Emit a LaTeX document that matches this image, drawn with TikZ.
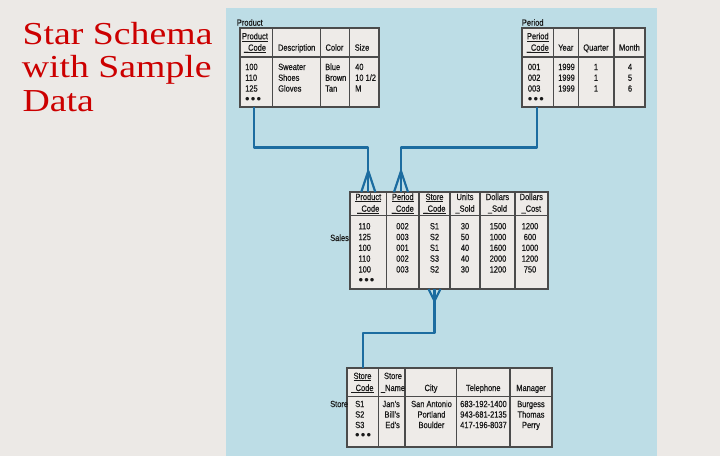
\documentclass[tikz,border=0pt]{standalone}
\usepackage{fontspec}
\newfontfamily\tabfont[FakeStretch=0.83, FakeBold=0.5]{Liberation Sans}
\newfontfamily\dotfont{Liberation Sans}
\newfontfamily\ttlfont[FakeStretch=1.18]{Liberation Serif}
\definecolor{bgc}{RGB}{236,233,230}
\definecolor{panelc}{RGB}{189,221,230}
\definecolor{tblfill}{RGB}{238,235,232}
\definecolor{tblline}{RGB}{75,75,75}
\definecolor{txtc}{RGB}{25,25,25}
\definecolor{connc}{RGB}{28,108,160}
\definecolor{ttlc}{RGB}{204,0,0}
\newcommand\dts{{\dotfont\fontsize{13}{13}\selectfont\raisebox{-1pt}{•\hspace{1.2pt}•\hspace{1.2pt}•}}}
\newcommand\uc[1]{\underline{\smash{\_}#1}}
\begin{document}
\begin{tikzpicture}[x=1pt,y=-1pt,
  ttl/.style={font=\ttlfont\fontsize{32}{34}\selectfont, text=ttlc, inner sep=0pt, anchor=base west},
  tx/.style={font=\tabfont\fontsize{9}{11}\selectfont, text=txtc, inner sep=0pt},
  tbl/.style={draw=tblline, fill=tblfill, line width=1.7pt, inner sep=0pt, outer sep=0pt, anchor=north west},
  gl/.style={draw=tblline, line width=1.2pt},
  conn/.style={draw=connc, line width=2.2pt, line join=round}]
\fill[bgc] (0,0) rectangle (720,456);
\useasboundingbox (0,0) rectangle (720,456);
\fill[panelc] (226,8) rectangle (657,456);

% title
\node[ttl] (t1) at (22.5,44.3) {Star Schema};
\node[ttl] (t2) at (21.7,77.5) {with Sample};
\node[ttl] (t3) at (22.5,111.5) {Data};

% ---------- Product ----------
\node[tbl, minimum width=139pt, minimum height=79pt] (prod) at (240,28) {};
\draw[gl] (240,57) -- (379,57);
\foreach \x in {272.7,320.7,349.3} \draw[gl] (\x,28) -- (\x,107);
\node[tx, anchor=base west] (prodlbl) at (236.7,25.7) {Product};
\node[tx, anchor=base] (prh1a) at (255,39.3) {\underline{Product}};
\node[tx, anchor=base] (prh1b) at (255,50.7) {\uc{Code}};
\node[tx, anchor=base] (prh2) at (296.7,50.7) {Description};
\node[tx, anchor=base] (prh3) at (334.5,50.7) {Color};
\node[tx, anchor=base] (prh4) at (362,50.7) {Size};
\foreach \t [count=\i] in {100,110,125,\dts}
  \node[tx, anchor=base west] (prc1r\i) at (245,{59.2+10.8*\i}) {\t};
\foreach \t [count=\i] in {Sweater,Shoes,Gloves}
  \node[tx, anchor=base west] (prc2r\i) at (278,{59.2+10.8*\i}) {\t};
\foreach \t [count=\i] in {Blue,Brown,Tan}
  \node[tx, anchor=base west] (prc3r\i) at (325,{59.2+10.8*\i}) {\t};
\foreach \t [count=\i] in {40,10 1/2,M}
  \node[tx, anchor=base west] (prc4r\i) at (355,{59.2+10.8*\i}) {\t};

% ---------- Period ----------
\node[tbl, minimum width=123pt, minimum height=79pt] (period) at (522,28) {};
\draw[gl] (522,57) -- (645,57);
\foreach \x in {553.3,578.3,614} \draw[gl] (\x,28) -- (\x,107);
\node[tx, anchor=base west] (perlbl) at (521.7,25.7) {Period};
\node[tx, anchor=base] (peh1a) at (537.8,39.3) {\underline{Period}};
\node[tx, anchor=base] (peh1b) at (537.8,50.7) {\uc{Code}};
\node[tx, anchor=base] (peh2) at (565.8,50.7) {Year};
\node[tx, anchor=base] (peh3) at (596,50.7) {Quarter};
\node[tx, anchor=base] (peh4) at (629.5,50.7) {Month};
\foreach \t [count=\i] in {001,002,003,\dts}
  \node[tx, anchor=base west] (pec1r\i) at (527.7,{59.2+10.8*\i}) {\t};
\foreach \t [count=\i] in {1999,1999,1999}
  \node[tx, anchor=base west] (pec2r\i) at (558,{59.2+10.8*\i}) {\t};
\foreach \t [count=\i] in {1,1,1}
  \node[tx, anchor=base] (pec3r\i) at (596,{59.2+10.8*\i}) {\t};
\foreach \t [count=\i] in {4,5,6}
  \node[tx, anchor=base] (pec4r\i) at (630,{59.2+10.8*\i}) {\t};

% ---------- Sales ----------
\node[tbl, minimum width=198pt, minimum height=97pt] (sales) at (350,192) {};
\draw[gl] (350,215.7) -- (548,215.7);
\foreach \x in {386.7,419,450,480,515} \draw[gl] (\x,192) -- (\x,289);
\node[tx, anchor=base west] (salbl) at (330,241) {Sales};
\node[tx, anchor=base] (sah1a) at (368.3,200) {\underline{Product}};
\node[tx, anchor=base] (sah1b) at (368.3,211.7) {\uc{Code}};
\node[tx, anchor=base] (sah2a) at (402.8,200) {\underline{Period}};
\node[tx, anchor=base] (sah2b) at (402.8,211.7) {\uc{Code}};
\node[tx, anchor=base] (sah3a) at (434.5,200) {\underline{Store}};
\node[tx, anchor=base] (sah3b) at (434.5,211.7) {\uc{Code}};
\node[tx, anchor=base] (sah4a) at (465,200) {Units};
\node[tx, anchor=base] (sah4b) at (465,211.7) {\_Sold};
\node[tx, anchor=base] (sah5a) at (497.5,200) {Dollars};
\node[tx, anchor=base] (sah5b) at (497.5,211.7) {\_Sold};
\node[tx, anchor=base] (sah6a) at (531.3,200) {Dollars};
\node[tx, anchor=base] (sah6b) at (531.3,211.7) {\_Cost};
\foreach \t [count=\i] in {110,125,100,110,100,\dts}
  \node[tx, anchor=base west] (sac1r\i) at (358.3,{218.5+10.8*\i}) {\t};
\foreach \t [count=\i] in {002,003,001,002,003}
  \node[tx, anchor=base] (sac2r\i) at (402.5,{218.5+10.8*\i}) {\t};
\foreach \t [count=\i] in {S1,S2,S1,S3,S2}
  \node[tx, anchor=base] (sac3r\i) at (434.5,{218.5+10.8*\i}) {\t};
\foreach \t [count=\i] in {30,50,40,40,30}
  \node[tx, anchor=base] (sac4r\i) at (465,{218.5+10.8*\i}) {\t};
\foreach \t [count=\i] in {1500,1000,1600,2000,1200}
  \node[tx, anchor=base] (sac5r\i) at (498,{218.5+10.8*\i}) {\t};
\foreach \t [count=\i] in {1200,600,1000,1200,750}
  \node[tx, anchor=base] (sac6r\i) at (530,{218.5+10.8*\i}) {\t};

% ---------- Store ----------
\node[tbl, minimum width=205pt, minimum height=79pt] (store) at (347,368) {};
\draw[gl] (347,396.7) -- (552,396.7);
\foreach \x in {378.3,405,456.7,510} \draw[gl] (\x,368) -- (\x,447);
\node[tx, anchor=base west] (stlbl) at (330,407.1) {Store};
\node[tx, anchor=base] (sth1a) at (362.5,379) {\underline{Store}};
\node[tx, anchor=base] (sth1b) at (362.5,391) {\uc{Code}};
\node[tx, anchor=base] (sth2a) at (393,379) {Store};
\node[tx, anchor=base] (sth2b) at (393,391) {\_Name};
\node[tx, anchor=base] (sth3) at (431,391) {City};
\node[tx, anchor=base] (sth4) at (483.3,391) {Telephone};
\node[tx, anchor=base] (sth5) at (531,391) {Manager};
\foreach \t [count=\i] in {S1,S2,S3,\dts}
  \node[tx, anchor=base west] (stc1r\i) at (355,{396.6+10.5*\i}) {\t};
\foreach \t [count=\i] in {Jan’s,Bill’s,Ed’s}
  \node[tx, anchor=base east] (stc2r\i) at (400,{396.6+10.5*\i}) {\t};
\foreach \t [count=\i] in {San Antonio,Portland,Boulder}
  \node[tx, anchor=base] (stc3r\i) at (431.5,{396.6+10.5*\i}) {\t};
\foreach \t [count=\i] in {683-192-1400,943-681-2135,417-196-8037}
  \node[tx, anchor=base] (stc4r\i) at (483.5,{396.6+10.5*\i}) {\t};
\foreach \t [count=\i] in {Burgess,Thomas,Perry}
  \node[tx, anchor=base] (stc5r\i) at (531,{396.6+10.5*\i}) {\t};

% ---------- connectors ----------
\coordinate (pout) at ([xshift=14pt]prod.south west);
\coordinate (sinP) at ([xshift=18.3pt]sales.north west);
\coordinate (qout) at ([xshift=14.7pt]period.south west);
\coordinate (sinQ) at ([xshift=51pt]sales.north west);
\coordinate (sout) at ([xshift=84.5pt]sales.south west);
\coordinate (tin) at ([xshift=15.7pt]store.north west);

\draw[conn] (pout) -- ++(0,40.5) -| (sinP);
\draw[conn] (sinP) ++(-7,0) -- ++(7,-21) -- ++(7,21);
\draw[conn] (qout) -- ++(0,40.5) -| (sinQ);
\draw[conn] (sinQ) ++(-7,0) -- ++(7,-21) -- ++(7,21);
\draw[conn] (sout) -- ++(0,44.3) -| (tin);
\draw[conn] (sout) ++(-6,0) -- ++(6,12) -- ++(6,-12);
\end{tikzpicture}
\end{document}
